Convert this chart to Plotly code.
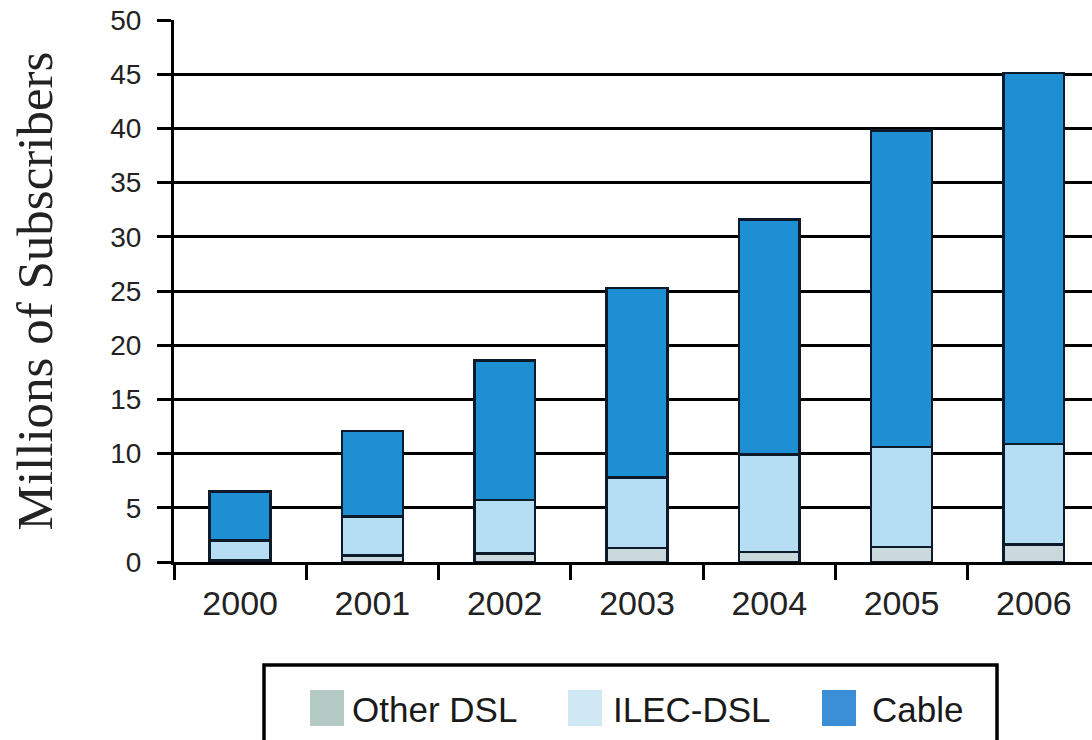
import plotly.graph_objects as go

years = ["2000", "2001", "2002", "2003", "2004", "2005", "2006"]
other_dsl = [0.2, 0.6, 0.8, 1.3, 0.9, 1.4, 1.6]
ilec_dsl = [1.8, 3.6, 4.9, 6.5, 9.0, 9.2, 9.3]
cable = [4.5, 7.9, 12.9, 17.5, 21.7, 29.2, 34.2]
y_ticks = [0, 5, 10, 15, 20, 25, 30, 35, 40, 45, 50]

series_names = ["Other DSL", "ILEC-DSL", "Cable"]
series_values = [other_dsl, ilec_dsl, cable]
series_colors = ["#c9d9dc", "#b5def5", "#1f8fd3"]
legend_colors = ["#b3cbc4", "#cfe8f4", "#3a8fd6"]

W, H = 1092, 740
M_L, M_R, M_T, M_B = 174, 0, 20, 178
plot_w = W - M_L - M_R
plot_h = H - M_T - M_B


def px_x(px):
    return (px - M_L) / plot_w


def px_y(py):
    return (H - M_B - py) / plot_h


fig = go.Figure()
for name, vals, color in zip(series_names, series_values, series_colors):
    fig.add_trace(go.Bar(
        x=years, y=vals, name=name,
        marker=dict(color=color, line=dict(color="#0d1a2a", width=2.5)),
        width=0.46,
        showlegend=False,
    ))

# Legend box drawn by hand so the swatches can be large
shapes = [dict(type="rect", xref="paper", yref="paper",
               x0=px_x(264), x1=px_x(997), y0=px_y(760), y1=px_y(665),
               line=dict(color="black", width=3.5), fillcolor="white", layer="below")]
annotations = []
swatch_x = [310, 568, 822]
text_x = [350, 611, 870]
for name, color, sx, tx in zip(series_names, legend_colors, swatch_x, text_x):
    shapes.append(dict(type="rect", xref="paper", yref="paper",
                       x0=px_x(sx), x1=px_x(sx + 34), y0=px_y(726), y1=px_y(690),
                       line=dict(width=0), fillcolor=color))
    annotations.append(dict(xref="paper", yref="paper", x=px_x(tx), y=px_y(709),
                            xanchor="left", yanchor="middle", showarrow=False,
                            text=name, font=dict(size=35, color="#1a1a1a")))

fig.update_layout(
    barmode="stack",
    width=W, height=H,
    margin=dict(l=M_L, r=M_R, t=M_T, b=M_B),
    plot_bgcolor="white", paper_bgcolor="white",
    font=dict(family="Liberation Sans, Arial, sans-serif", size=28, color="#222"),
    xaxis=dict(
        type="category", range=[-0.5, 6.44],
        showline=True, linecolor="black", linewidth=3,
        ticks="outside", tickson="boundaries", ticklen=15, tickwidth=2.5, tickcolor="black",
        showgrid=False,
        tickfont=dict(size=34),
        ticklabelstandoff=9,
    ),
    yaxis=dict(
        range=[0, 50], tickvals=y_ticks,
        showline=True, linecolor="black", linewidth=3,
        ticks="outside", ticklen=14, tickwidth=2.5, tickcolor="black",
        showgrid=True, gridcolor="black", gridwidth=3,
        zeroline=False,
        tickfont=dict(size=28),
        ticklabelstandoff=10,
        title=dict(text="Millions of Subscribers",
                   font=dict(family="Liberation Serif, Times New Roman, serif", size=51, color="#222"),
                   standoff=42),
    ),
    shapes=shapes,
    annotations=annotations,
    showlegend=False,
)

fig.write_html("out.html")
